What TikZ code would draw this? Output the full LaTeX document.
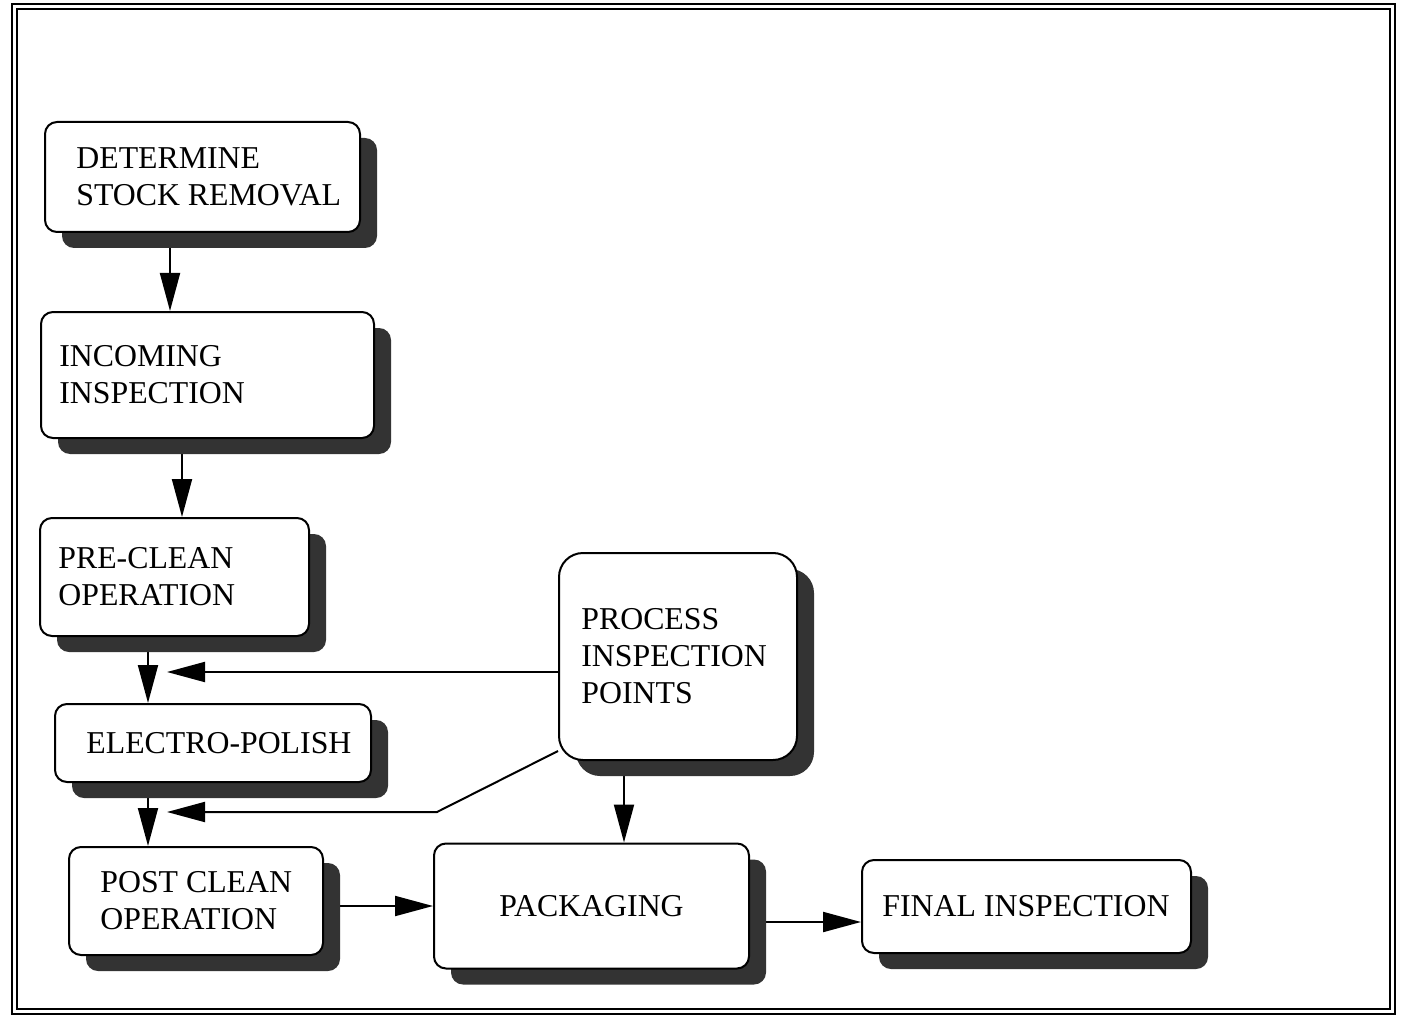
\documentclass[tikz,border=0pt]{standalone}
\usepackage{fontspec}
\setmainfont{Liberation Serif}
\usetikzlibrary{arrows.meta,positioning,shadows,backgrounds}

\begin{document}
\begin{tikzpicture}[x=.5pt,y=-.5pt,>={Triangle[length=19pt,width=10pt]},
  box/.style={draw,line width=1pt,fill=white,rounded corners=6pt,
    drop shadow={shadow xshift=8.5pt,shadow yshift=-8pt,fill=black!80,opacity=1}},
  txt/.style={inner sep=0pt,align=left,font=\fontsize{15.9}{18.5}\selectfont},
  arr/.style={->,line width=1pt}]
\useasboundingbox (0,0) rectangle (1402,1016);
% frame
\draw[line width=1pt] (12,4) rectangle (1395,1014);
\draw[line width=.8pt] (17,9) rectangle (1390,1009);
% left column
\node[box,minimum width=157.5pt,minimum height=55pt] (det) at (202.5,177) {};
\node[txt,right=16pt of det.west] (dett) {DETERMINE\\STOCK REMOVAL};
\node[box,minimum width=166.5pt,minimum height=63pt] (inc) at (207.5,375) {};
\node[txt,right=9.5pt of inc.west] (inct) {INCOMING\\INSPECTION};
\node[box,minimum width=134.5pt,minimum height=59pt] (pre) at (174.5,577) {};
\node[txt,right=9.5pt of pre.west] (pret) {PRE-CLEAN\\OPERATION};
\node[box,minimum width=158pt,minimum height=39pt] (ele) at (213,743) {};
\node[txt,right=16pt of ele.west] (elet) {ELECTRO-POLISH};
\node[box,minimum width=127pt,minimum height=54pt] (post) at (196,901) {};
\node[txt,right=16pt of post.west] (postt) {POST CLEAN\\OPERATION};
% bottom row and inspection box
\node[box,minimum width=157.5pt,minimum height=62.5pt,font=\fontsize{15.9}{18.5}\selectfont] (pack) at (591.5,906) {PACKAGING};
\node[box,minimum width=164.5pt,minimum height=46.5pt] (final) at (1026.5,906.5) {};
\node[txt,right=10.5pt of final.west] (finalt) {FINAL INSPECTION};
\node[box,rounded corners=12pt,minimum width=119pt,minimum height=103.5pt] (pip) at (678,656.5) {};
\node[txt,right=11.5pt of pip.west] (pipt) {PROCESS\\INSPECTION\\POINTS};
% connectors
\coordinate (j1) at (167,672);
\coordinate (j2) at (167,812);
\coordinate (k) at (437,812);
\coordinate (v) at ([xshift=-27pt]pip.south);
\coordinate (h) at ([yshift=-8pt]pack.east);
\begin{pgfonlayer}{background}
\draw[arr] ([xshift=-16.25pt]det.south) -- ([xshift=-18.75pt]inc.north);
\draw[arr] ([xshift=-12.75pt]inc.south) -- ([xshift=3.75pt]pre.north);
\draw[arr] ([xshift=-13.25pt]pre.south) -- ([xshift=-32.5pt]ele.north);
\draw[arr] ([xshift=-32.5pt]ele.south) -- ([xshift=-24pt]post.north);
\draw[arr] (pip.west |- j1) -- (j1);
\draw[arr] ([yshift=5pt]pip.south west) -- (k) -- (j2);
\draw[arr] (v) -- (v |- pack.north);
\draw[arr] (post.east |- pack.west) -- (pack.west);
\draw[arr] (h) -- (h -| final.west);
\end{pgfonlayer}
\end{tikzpicture}
\end{document}
